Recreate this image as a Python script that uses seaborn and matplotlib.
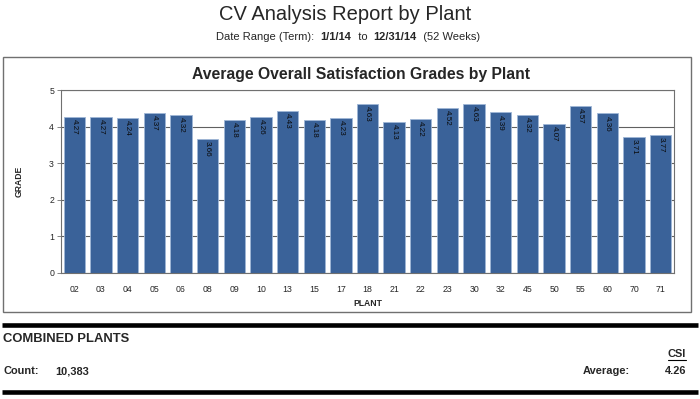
import numpy as np
import pandas as pd
import seaborn as sns
import matplotlib.pyplot as plt
from matplotlib.patches import Rectangle
from matplotlib.lines import Line2D

plants = ["02", "03", "04", "05", "06", "08", "09", "10", "13", "15", "17", "18", "21",
          "22", "23", "30", "32", "45", "50", "55", "60", "70", "71"]
grades = [4.27, 4.27, 4.24, 4.37, 4.32, 3.66, 4.18, 4.26, 4.43, 4.18, 4.23, 4.63, 4.13,
          4.22, 4.52, 4.63, 4.39, 4.32, 4.07, 4.57, 4.36, 3.71, 3.77]
count_text = "10,383"
csi_average = "4.26"

df = pd.DataFrame({"plant": plants, "grade": grades})

sns.set_theme(style="white")
plt.rcParams["font.family"] = ["Liberation Sans", "DejaVu Sans"]

W, H = 700, 399
fig = plt.figure(figsize=(W / 100, H / 100), dpi=100)

def px(x0, y0, x1, y1):
    # pixel box -> figure fraction rect
    return [x0 / W, 1 - y1 / H, (x1 - x0) / W, (y1 - y0) / H]

ax = fig.add_axes(px(61, 90, 674, 273))
sns.barplot(data=df, x="plant", y="grade", color="#3A6299", saturation=1,
            width=0.8, edgecolor="#9FB6D6", linewidth=0.6, ax=ax)
ax.set_ylim(0, 5)
ax.set_yticks([0, 1, 2, 3, 4, 5])
ax.yaxis.grid(True, color="#606060", linewidth=0.8)
ax.set_axisbelow(True)
for s in ax.spines.values():
    s.set_color("#707070")
    s.set_linewidth(0.8)
ax.tick_params(axis="y", left=True, length=3, width=0.6, color="#707070", labelsize=6.3, pad=2)
ax.tick_params(axis="x", bottom=False, labelsize=6.3, pad=3)
ax.set_xlabel("PLANT", fontsize=6.2, fontweight="bold", labelpad=3)
ax.set_ylabel("GRADE", fontsize=6.2, fontweight="bold", labelpad=18)

# value labels, rotated, just inside the top of each bar
for i, v in enumerate(grades):
    ax.text(i, v - 0.06, f"{v:.2f}", rotation=270, ha="center", va="top",
            fontsize=5.8, color="#0a0a0a")

# outer frame around chart
fig.add_artist(Rectangle((3 / W, 1 - 312 / H), 688 / W, 255 / H, transform=fig.transFigure,
                         fill=False, edgecolor="#707070", linewidth=1))
fig.text(361 / W, 1 - 74 / H, "Average Overall Satisfaction Grades by Plant", ha="center",
         va="center", fontsize=11.3, fontweight="bold")

# header
fig.text(345 / W, 1 - 15 / H, "CV Analysis Report by Plant", ha="center", va="center", fontsize=14.5)

parts = [("Date Range (Term):  ", "normal"), ("1/1/14", "bold"), ("  to  ", "normal"),
         ("12/31/14", "bold"), ("  (52 Weeks)", "normal")]
renderer = fig.canvas.get_renderer()
texts = [fig.text(0, 1 - 37 / H, t, fontsize=8, fontweight=w, va="center") for t, w in parts]
widths = [t.get_window_extent(renderer).width for t in texts]
x = 348 - sum(widths) / 2
for t, w in zip(texts, widths):
    t.set_x(x / W)
    x += w

# footer
for y in (324.5, 391.5):
    fig.add_artist(Line2D([2 / W, 698 / W], [1 - y / H] * 2, transform=fig.transFigure,
                          color="black", linewidth=3.3, solid_capstyle="butt"))
fig.text(3 / W, 1 - 339 / H, "COMBINED PLANTS", fontsize=9.4, fontweight="bold", va="center")
fig.text(686 / W, 1 - 354 / H, "CSI", fontsize=7.9, fontweight="bold", va="center", ha="right")
fig.add_artist(Line2D([668 / W, 686 / W], [1 - 360 / H] * 2, transform=fig.transFigure,
                      color="black", linewidth=0.8))
fig.text(3 / W, 1 - 371 / H, "Count:", fontsize=7.9, fontweight="bold", va="center")
fig.text(55 / W, 1 - 371 / H, count_text, fontsize=7.9, fontweight="bold", va="center")
fig.text(583 / W, 1 - 371 / H, "Average:", fontsize=7.9, fontweight="bold", va="center")
fig.text(686 / W, 1 - 371 / H, csi_average, fontsize=7.9, fontweight="bold", va="center", ha="right")

fig.savefig("out.png", dpi=100)
